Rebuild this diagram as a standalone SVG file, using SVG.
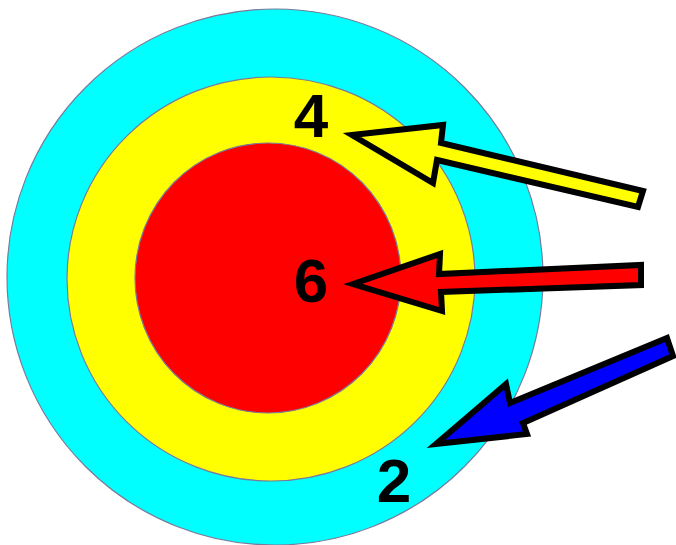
<svg xmlns="http://www.w3.org/2000/svg" width="676" height="545" viewBox="0 0 676 545">
<style>
.ring{stroke:#7a7a9a;stroke-width:1.2}
.arrow{stroke:#000;stroke-width:6;stroke-linejoin:miter;stroke-miterlimit:10}
.lbl{font-family:"Liberation Sans",Arial,sans-serif;font-weight:bold;font-size:62px;fill:#000;text-anchor:middle}
</style>
<rect width="676" height="545" fill="#fff"/>
<g id="ring2"><ellipse class="ring" cx="275" cy="277" rx="268" ry="268" fill="#00ffff"/></g>
<g id="ring4"><ellipse class="ring" cx="271" cy="279" rx="204" ry="202" fill="#ffff00"/></g>
<g id="ring6"><ellipse class="ring" cx="268" cy="278" rx="133" ry="135" fill="#ff0000"/></g>
<g id="connectors">
<polygon class="arrow" fill="#ffff00" points="352,135 443,125 441,143 643,191 638,207 437,160 433,183"/>
<polygon class="arrow" fill="#ff0000" points="353,284 440,254 439,274 641,265 641,285 441,292 442,311"/>
<polygon class="arrow" fill="#0000ff" points="436,444 506,384 510,403 667,338 673,356 523,423 527,434"/>
</g>
<g id="label4"><text class="lbl" x="311" y="137">4</text></g>
<g id="label6"><text class="lbl" x="311" y="302">6</text></g>
<g id="label2"><text class="lbl" x="394" y="502">2</text></g>
</svg>
